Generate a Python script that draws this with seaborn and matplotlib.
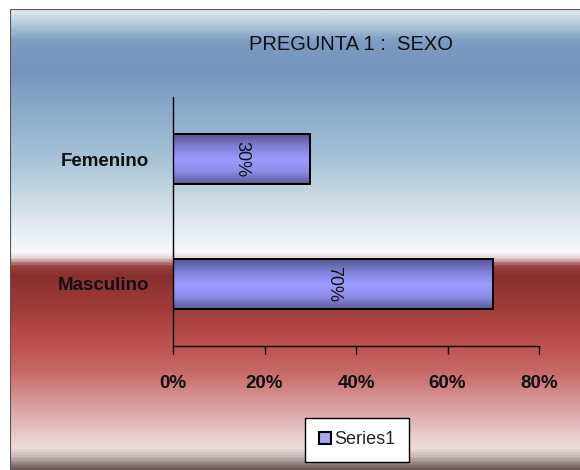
import numpy as np
import pandas as pd
import seaborn as sns
import matplotlib.pyplot as plt
from matplotlib.colors import LinearSegmentedColormap, to_rgb
from matplotlib.patches import Rectangle

# data
categories = ["Femenino", "Masculino"]
values = [0.30, 0.70]
bar_labels = ["30%", "70%"]
x_ticks = [0.0, 0.2, 0.4, 0.6, 0.8]
x_tick_labels = ["0%", "20%", "40%", "60%", "80%"]
series_name = "Series1"
title = "PREGUNTA 1 :  SEXO"

df = pd.DataFrame({"sexo": categories, "valor": values})

sns.set_theme(style="white")
plt.rcParams["font.family"] = ["Liberation Sans", "DejaVu Sans"]

W, H = 580, 470
fig = plt.figure(figsize=(W / 100, H / 100), dpi=100)
fig.patch.set_facecolor("white")

# background panel with the blue / white / red gradient
top_px = 9
bg = fig.add_axes([10 / W, 0, 1 - 10 / W, (H - top_px) / H])
stops = [
    (9, "#dbe7ee"), (18, "#c2d5e1"), (40, "#7e9bc2"), (70, "#7594bd"),
    (110, "#8aabc9"), (160, "#a9c3d7"), (205, "#cfdee8"), (240, "#eef3f6"),
    (253, "#f7f8f9"), (258, "#e4d0d0"), (266, "#9c4444"), (275, "#8a2e2e"),
    (310, "#a23c3c"), (345, "#bd5050"), (375, "#c86c6c"), (405, "#d99c9c"),
    (435, "#e8c8c8"), (450, "#ecdcdc"), (458, "#c8b4b4"), (470, "#6e5c5c"),
]
span = H - top_px
cmap = LinearSegmentedColormap.from_list(
    "bg", [((p - top_px) / span, to_rgb(c)) for p, c in stops])
grad = np.linspace(0, 1, 400).reshape(-1, 1)
bg.imshow(grad, cmap=cmap, aspect="auto", extent=[0, 1, 1, 0])
bg.set_xlim(0, 1)
bg.set_ylim(1, 0)
bg.set_axis_off()
bg.add_line(plt.Line2D([0, 0], [0, 1], color="#555555", lw=1.5, transform=bg.transAxes))
bg.add_line(plt.Line2D([0, 1], [1, 1], color="#555555", lw=1.5, transform=bg.transAxes))
bg.set_zorder(0)

# plot area
ax = fig.add_axes([173 / W, 1 - 346 / H, (539 - 173) / W, (346 - 97) / H])
ax.set_zorder(1)
ax.patch.set_alpha(0)

sns.barplot(data=df, x="valor", y="sexo", orient="h", color="#9999ff",
            edgecolor="black", linewidth=1.4, width=0.4, label=series_name, ax=ax)

# shading on each bar (darker at top and bottom edge)
shade = LinearSegmentedColormap.from_list(
    "bar", ["#55558f", "#8080d8", "#9c9cff", "#8c8ce8", "#5a5a96"])
for p in ax.patches:
    x0, y0 = p.get_x(), p.get_y()
    w, h = p.get_width(), p.get_height()
    im = ax.imshow(np.linspace(0, 1, 100).reshape(-1, 1), cmap=shade, aspect="auto",
                   extent=[x0, x0 + w, y0 + h, y0], zorder=p.get_zorder() + 0.1)
    im.set_clip_path(p)
    ax.add_patch(Rectangle((x0, y0), w, h, fill=False, edgecolor="black",
                           lw=1.4, zorder=p.get_zorder() + 0.2))

ax.set_xlim(0, 0.8)
ax.set_ylim(1.5, -0.5)
ax.set_xticks(x_ticks)
ax.set_xticklabels(x_tick_labels, fontsize=13.5, fontweight="bold", color="#111111")
ax.set_yticklabels(categories, fontsize=13.5, fontweight="bold", color="#111111")
ax.tick_params(axis="x", direction="out", length=6, width=1, color="black", pad=15, bottom=True)
ax.tick_params(axis="y", length=0, pad=17)
ax.set_xlabel("")
ax.set_ylabel("")
for s in ["top", "right"]:
    ax.spines[s].set_visible(False)
for s in ["left", "bottom"]:
    ax.spines[s].set_color("black")
    ax.spines[s].set_linewidth(1)

for i, lab in enumerate(bar_labels):
    ax.text(values[i] / 2, i, lab, rotation=270, ha="center", va="center",
            fontsize=13, color="#111111", zorder=5)

fig.text(351 / W, 1 - 45 / H, title, ha="center", va="center", fontsize=14.5, color="#111111")

leg = ax.legend(loc="center", bbox_to_anchor=(357 / W, 1 - 440 / H),
                bbox_transform=fig.transFigure, frameon=True, fancybox=False,
                framealpha=1, edgecolor="black", fontsize=13,
                handlelength=0.65, handleheight=0.65, handletextpad=0.2,
                borderpad=0.75, borderaxespad=0)
leg.get_frame().set_linewidth(1)
for hnd in leg.legend_handles:
    hnd.set_edgecolor("black")
    hnd.set_linewidth(1.5)

fig.savefig("out.png", dpi=100)
